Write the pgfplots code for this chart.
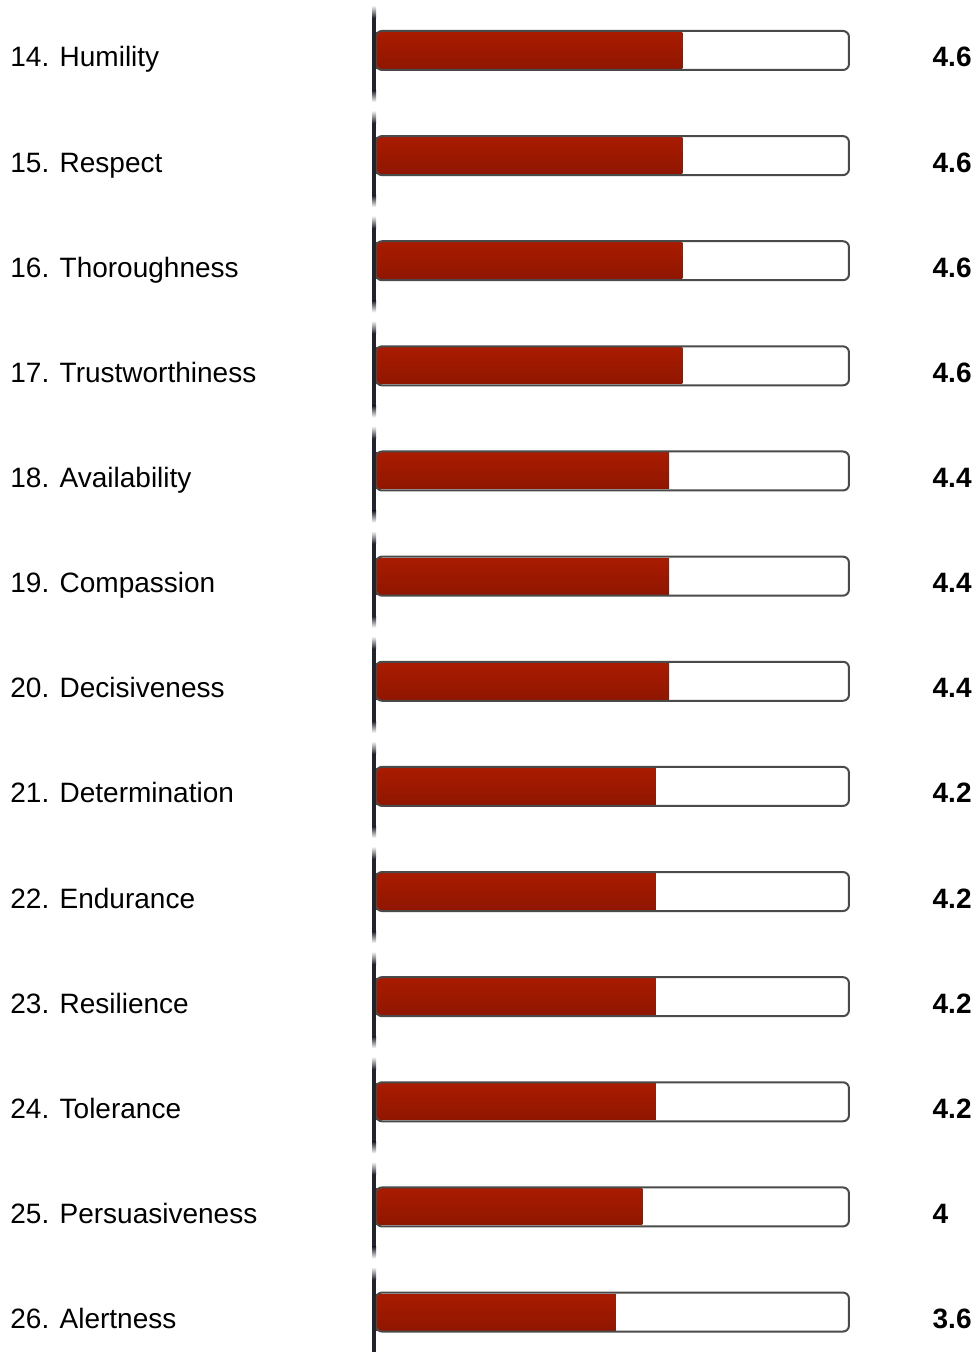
\documentclass[border=0pt]{standalone}
\usepackage{fontspec}
\setmainfont{Liberation Sans}
\usepackage{pgfplots}
\pgfplotsset{compat=1.18}
\usepackage{pgfplotstable}

\definecolor{barbase}{HTML}{B51E02}
\definecolor{bartop}{HTML}{A81B00}
\definecolor{barbottom}{HTML}{901600}
\definecolor{barline}{HTML}{4A4A4A}
\definecolor{axisdark}{HTML}{23232E}

% row index (top to bottom) and mean score
\pgfplotstableread{
row val
0  4.6
1  4.6
2  4.6
3  4.6
4  4.4
5  4.4
6  4.4
7  4.2
8  4.2
9  4.2
10 4.2
11 4.0
12 3.6
}\scores

\begin{document}
\begin{tikzpicture}[font=\fontsize{14}{16}\selectfont]
\begin{axis}[
  at={(188pt,0pt)}, anchor=south west,
  scale only axis, width=236.5pt, height=676pt,
  xmin=0, xmax=7.1, ymin=-0.48, ymax=12.38, y dir=reverse,
  axis line style={draw=none},
  xtick=\empty,
  ytick={0,...,12},
  yticklabels={14. Humility, 15. Respect, 16. Thoroughness, 17. Trustworthiness,
    18. Availability, 19. Compassion, 20. Decisiveness, 21. Determination,
    22. Endurance, 23. Resilience, 24. Tolerance, 25. Persuasiveness, 26. Alertness},
  major tick length=0pt,
  ytick style={draw=none},
  yticklabel style={anchor=base west, inner sep=0pt, xshift=-183pt, yshift=-8.25pt},
  clip=false,
]
% white track behind each score
\addplot[xbar, bar shift=0pt, bar width=19.5pt, fill=white, draw=none, forget plot]
  table[x expr=7.1, y=row] {\scores};
% score bars, one plot per row so each gets its own vertical shading
\pgfplotsinvokeforeach{0,...,12}{
  \addplot[xbar, bar shift=0pt, bar width=18pt, draw=none, forget plot,
    top color=bartop, middle color=barbase, bottom color=barbottom]
    table[x=val, y=row, restrict expr to domain={\coordindex}{#1:#1}] {\scores};
}
% rounded outline of each track
\addplot[xbar, bar shift=0pt, bar width=19.5pt, fill=none, draw=barline,
  line width=1pt, rounded corners=3pt, forget plot]
  table[x expr=7.1, y=row] {\scores};
% score values printed in the right column
\addplot[draw=none, mark=none, nodes near coords, point meta=explicit,
  /pgf/number format/assume math mode=true,
  every node near coord/.append style={anchor=base west, inner sep=0pt,
    font=\fontsize{14}{16}\selectfont\bfseries, yshift=-8.25pt}]
  table[x expr=8.35, y=row, meta=val] {\scores};
% segmented vertical axis line, fading between rows
\pgfplotsinvokeforeach{0,...,12}{
  \fill[axisdark] ([xshift=-2pt]axis cs:0,#1-0.31) rectangle (axis cs:0,#1+0.38);
  \fill[top color=white, bottom color=axisdark]
    ([xshift=-2pt]axis cs:0,#1-0.43) rectangle (axis cs:0,#1-0.31);
  \fill[top color=axisdark, bottom color=white]
    ([xshift=-2pt]axis cs:0,#1+0.38) rectangle (axis cs:0,#1+0.49);
}
\end{axis}
\pgfresetboundingbox
\useasboundingbox (0pt,0pt) rectangle (489.5pt,676pt);
\end{tikzpicture}
\end{document}
